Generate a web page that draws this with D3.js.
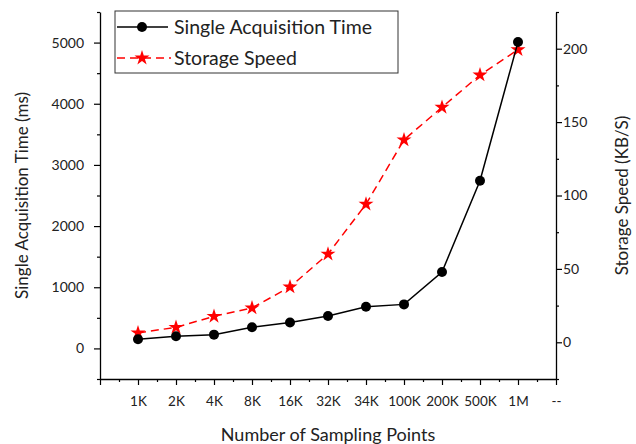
<!DOCTYPE html>
<html>
<head>
<meta charset="utf-8">
<script src="https://cdn.jsdelivr.net/npm/d3@7"></script>
<style>
  body { margin: 0; background: #fff; }
  text { font-family: Lato, "Open Sans", sans-serif; fill: #222; }
</style>
</head>
<body>
<div id="chart"></div>
<script>
// categories along the x axis (index 1..11), last slot is the "--" tick
var categories = ["1K", "2K", "4K", "8K", "16K", "32K", "34K", "100K", "200K", "500K", "1M"];
var xTickLabels = ["", "1K", "2K", "4K", "8K", "16K", "32K", "34K", "100K", "200K", "500K", "1M", "--"];

// series values
var acqTime = [150, 200, 225, 345, 425, 530, 680, 720, 1250, 2740, 5010];     // ms, left axis
var storageSpeed = [6.4, 10.2, 17.7, 23.4, 37.7, 60.1, 94.1, 137.9, 160.1, 182.1, 199.3]; // KB/S, right axis

var leftTicks = [0, 1000, 2000, 3000, 4000, 5000];
var rightTicks = [0, 50, 100, 150, 200];

var W = 636, H = 444;
var margin = {top: 12, right: 80, bottom: 65, left: 100};
var width = W - margin.left - margin.right,
    height = H - margin.top - margin.bottom;

var svg = d3.select("#chart")
  .append("svg")
    .attr("width", W)
    .attr("height", H)
  .append("g")
    .attr("transform", "translate(" + margin.left + "," + margin.top + ")");

var x = d3.scaleLinear().domain([0, 12]).range([0, width]);
var yL = d3.scaleLinear().domain([-500, 5500]).range([height, 0]);
var yR = d3.scaleLinear().domain([-25, 225]).range([height, 0]);

// minor ticks first
svg.append("g")
  .attr("transform", "translate(0," + height + ")")
  .call(d3.axisBottom(x).tickValues(d3.range(0.5, 12, 1)).tickSize(3).tickFormat(""))
  .call(g => g.select(".domain").remove());
svg.append("g")
  .call(d3.axisLeft(yL).tickValues(d3.range(-500, 5501, 1000)).tickSize(3).tickFormat(""))
  .call(g => g.select(".domain").remove());
svg.append("g")
  .attr("transform", "translate(" + width + ",0)")
  .call(d3.axisRight(yR).tickValues(d3.range(-25, 226, 50)).tickSize(3).tickFormat(""))
  .call(g => g.select(".domain").remove());

// X axis
var xAxis = svg.append("g")
  .attr("transform", "translate(0," + height + ")")
  .call(d3.axisBottom(x).tickValues(d3.range(0, 13)).tickSize(6).tickSizeOuter(0)
    .tickFormat(function(d) { return xTickLabels[d]; }));
xAxis.selectAll("text").attr("y", 22).attr("dy", "0.35em").style("font-size", "13.5px");

// Left Y axis
var yAxisL = svg.append("g")
  .call(d3.axisLeft(yL).tickValues(leftTicks).tickSize(6).tickSizeOuter(0).tickFormat(d3.format("d")));
yAxisL.selectAll("text").attr("x", -16).style("font-size", "14px");

// Right Y axis
var yAxisR = svg.append("g")
  .attr("transform", "translate(" + width + ",0)")
  .call(d3.axisRight(yR).tickValues(rightTicks).tickSize(6).tickSizeOuter(0));
yAxisR.selectAll("text").attr("x", 7).style("font-size", "14px");

svg.selectAll(".domain").attr("stroke", "#000").attr("stroke-width", 1.3);
svg.selectAll(".tick line").attr("stroke", "#000").attr("stroke-width", 1.2);

// axis titles
svg.append("text")
  .attr("x", width / 2)
  .attr("y", height + 56)
  .attr("dy", "0.35em")
  .style("text-anchor", "middle")
  .style("font-size", "18px")
  .text("Number of Sampling Points");

svg.append("text")
  .attr("transform", "rotate(-90)")
  .attr("x", -height / 2)
  .attr("y", -78)
  .attr("dy", "0.35em")
  .style("text-anchor", "middle")
  .style("font-size", "17px")
  .text("Single Acquisition Time (ms)");

svg.append("text")
  .attr("transform", "rotate(-90)")
  .attr("x", -height / 2)
  .attr("y", width + 66)
  .attr("dy", "0.35em")
  .style("text-anchor", "middle")
  .style("font-size", "17px")
  .text("Storage Speed (KB/S)");

var star = d3.symbol().type(d3.symbolStar).size(70);

// storage speed series (red dashed, stars)
var lineR = d3.line()
  .x(function(d, i) { return x(i + 1); })
  .y(function(d) { return yR(d); });
svg.append("path")
  .datum(storageSpeed)
  .attr("fill", "none")
  .attr("stroke", "#ff0000")
  .attr("stroke-width", 1.5)
  .attr("stroke-dasharray", "8,5")
  .attr("d", lineR);
svg.selectAll(".star")
  .data(storageSpeed)
  .enter()
  .append("path")
    .attr("class", "star")
    .attr("d", star)
    .attr("fill", "#ff0000")
    .attr("transform", function(d, i) { return "translate(" + x(i + 1) + "," + yR(d) + ")"; });

// acquisition time series (black, circles)
var lineL = d3.line()
  .x(function(d, i) { return x(i + 1); })
  .y(function(d) { return yL(d); });
svg.append("path")
  .datum(acqTime)
  .attr("fill", "none")
  .attr("stroke", "#000")
  .attr("stroke-width", 1.5)
  .attr("d", lineL);
svg.selectAll(".dot")
  .data(acqTime)
  .enter()
  .append("circle")
    .attr("class", "dot")
    .attr("cx", function(d, i) { return x(i + 1); })
    .attr("cy", function(d) { return yL(d); })
    .attr("r", 5)
    .attr("fill", "#000");

// legend
var legend = svg.append("g").attr("transform", "translate(15,-1)");
legend.append("rect")
  .attr("width", 283)
  .attr("height", 62)
  .attr("fill", "#fff")
  .attr("stroke", "#333")
  .attr("stroke-width", 1);
legend.append("line")
  .attr("x1", 2).attr("x2", 53).attr("y1", 16).attr("y2", 16)
  .attr("stroke", "#000").attr("stroke-width", 1.5);
legend.append("circle")
  .attr("cx", 27).attr("cy", 16).attr("r", 5).attr("fill", "#000");
legend.append("text")
  .attr("x", 59).attr("y", 16).attr("dy", "0.35em")
  .style("font-size", "19.5px")
  .text("Single Acquisition Time");
legend.append("line")
  .attr("x1", 2).attr("x2", 56).attr("y1", 47).attr("y2", 47)
  .attr("stroke", "#ff0000").attr("stroke-width", 1.5)
  .attr("stroke-dasharray", "8,5");
legend.append("path")
  .attr("d", star)
  .attr("fill", "#ff0000")
  .attr("transform", "translate(27,47)");
legend.append("text")
  .attr("x", 59).attr("y", 47).attr("dy", "0.35em")
  .style("font-size", "19.5px")
  .text("Storage Speed");
</script>
</body>
</html>
